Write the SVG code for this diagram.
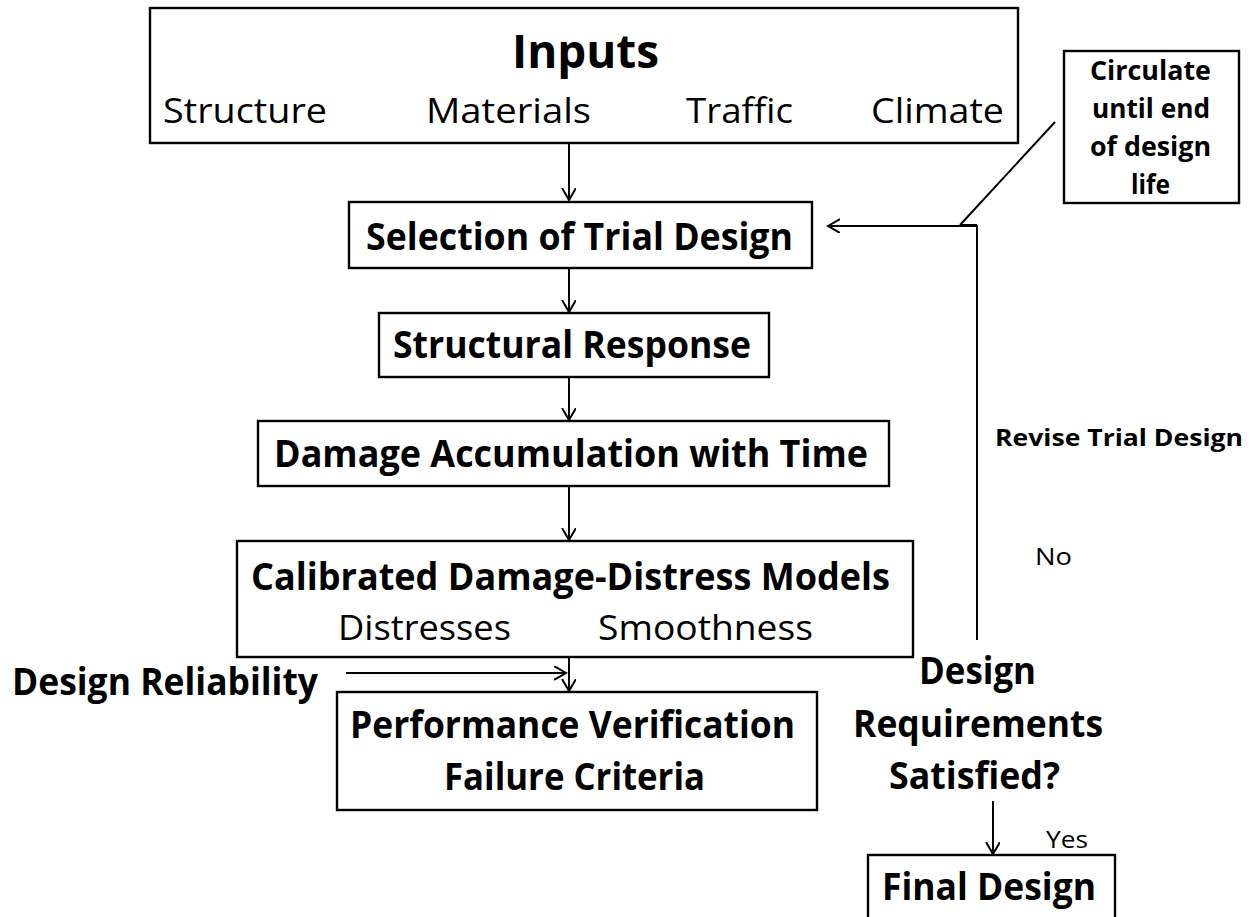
<svg xmlns="http://www.w3.org/2000/svg" width="1255" height="917" viewBox="0 0 1255 917">
<defs>
<style>
.box{fill:#fff;stroke:#000;stroke-width:2.4}
.c{fill:none;stroke:#000;stroke-width:2}
text{font-family:"Open Sans","Noto Sans","Liberation Sans",sans-serif;fill:#000}
.b{font-weight:bold;font-size:37px}
.r{font-size:35px}
.s{font-size:24px}
</style>
<marker id="ah" markerUnits="userSpaceOnUse" markerWidth="20" markerHeight="20" refX="12" refY="7" orient="auto">
<path d="M0,0 L12,7 L0,14" fill="none" stroke="#000" stroke-width="2"/>
</marker>
</defs>
<rect width="1255" height="917" fill="#fff"/>
<g id="connectors">
<line class="c" x1="569" y1="143" x2="569" y2="200" marker-end="url(#ah)"/>
<line class="c" x1="569" y1="258" x2="569" y2="312" marker-end="url(#ah)"/>
<line class="c" x1="569" y1="367" x2="569" y2="420" marker-end="url(#ah)"/>
<line class="c" x1="569" y1="486" x2="569" y2="540" marker-end="url(#ah)"/>
<line class="c" x1="569" y1="657" x2="569" y2="691" marker-end="url(#ah)"/>
<line class="c" x1="346" y1="673" x2="566" y2="673" marker-end="url(#ah)"/>
<polyline class="c" points="977,640 977,226 828,226" marker-end="url(#ah)"/>
<line class="c" x1="960" y1="225" x2="977" y2="225"/>
<line class="c" x1="1055" y1="122" x2="960" y2="225"/>
<line class="c" x1="993" y1="801" x2="993" y2="854" marker-end="url(#ah)"/>
</g>
<g id="inputs">
<rect class="box" x="150" y="8" width="868" height="135"/>
<text x="512" y="68" font-weight="bold" font-size="47" textLength="147" lengthAdjust="spacingAndGlyphs">Inputs</text>
<text class="r" x="163" y="123" textLength="164" lengthAdjust="spacingAndGlyphs">Structure</text>
<text class="r" x="426" y="123" textLength="165" lengthAdjust="spacingAndGlyphs">Materials</text>
<text class="r" x="686" y="123" textLength="107" lengthAdjust="spacingAndGlyphs">Traffic</text>
<text class="r" x="871" y="123" textLength="133" lengthAdjust="spacingAndGlyphs">Climate</text>
</g>
<g id="trial">
<rect class="box" x="349" y="202" width="463" height="66"/>
<text class="b" x="366" y="250" textLength="427" lengthAdjust="spacingAndGlyphs">Selection of Trial Design</text>
</g>
<g id="response">
<rect class="box" x="379" y="313" width="390" height="64"/>
<text class="b" x="393" y="358" textLength="358" lengthAdjust="spacingAndGlyphs">Structural Response</text>
</g>
<g id="damage">
<rect class="box" x="258" y="421" width="631" height="65"/>
<text class="b" x="274" y="467" textLength="594" lengthAdjust="spacingAndGlyphs">Damage Accumulation with Time</text>
</g>
<g id="models">
<rect class="box" x="237" y="541" width="676" height="116"/>
<text class="b" x="251" y="590" textLength="639" lengthAdjust="spacingAndGlyphs">Calibrated Damage-Distress Models</text>
<text class="r" x="338" y="640" textLength="173" lengthAdjust="spacingAndGlyphs">Distresses</text>
<text class="r" x="598" y="640" textLength="215" lengthAdjust="spacingAndGlyphs">Smoothness</text>
</g>
<g id="reliability">
<text class="b" x="12" y="695" textLength="306" lengthAdjust="spacingAndGlyphs">Design Reliability</text>
</g>
<g id="performance">
<rect class="box" x="337" y="692" width="480" height="118"/>
<text class="b" x="350" y="738" textLength="445" lengthAdjust="spacingAndGlyphs">Performance Verification</text>
<text class="b" x="444" y="790" textLength="261" lengthAdjust="spacingAndGlyphs">Failure Criteria</text>
</g>
<g id="circulate">
<rect class="box" x="1064" y="51" width="175" height="152"/>
<text font-weight="bold" font-size="26" x="1090" y="80" textLength="121" lengthAdjust="spacingAndGlyphs">Circulate</text>
<text font-weight="bold" font-size="26" x="1092" y="118" textLength="118" lengthAdjust="spacingAndGlyphs">until end</text>
<text font-weight="bold" font-size="26" x="1090" y="156" textLength="121" lengthAdjust="spacingAndGlyphs">of design</text>
<text font-weight="bold" font-size="26" x="1131" y="194" textLength="39" lengthAdjust="spacingAndGlyphs">life</text>
</g>
<g id="labels">
<text class="s" font-weight="bold" x="995" y="446" textLength="248" lengthAdjust="spacingAndGlyphs">Revise Trial Design</text>
<text class="s" x="1035" y="565" textLength="37" lengthAdjust="spacingAndGlyphs">No</text>
<text class="s" x="1046" y="848" textLength="42" lengthAdjust="spacingAndGlyphs">Yes</text>
</g>
<g id="decision">
<text class="b" x="919" y="684" textLength="117" lengthAdjust="spacingAndGlyphs">Design</text>
<text class="b" x="853" y="737" textLength="250" lengthAdjust="spacingAndGlyphs">Requirements</text>
<text class="b" x="889" y="789" textLength="171" lengthAdjust="spacingAndGlyphs">Satisfied?</text>
</g>
<g id="final">
<rect class="box" x="868" y="855" width="247" height="70"/>
<text class="b" x="882" y="900" textLength="214" lengthAdjust="spacingAndGlyphs">Final Design</text>
</g>
</svg>
